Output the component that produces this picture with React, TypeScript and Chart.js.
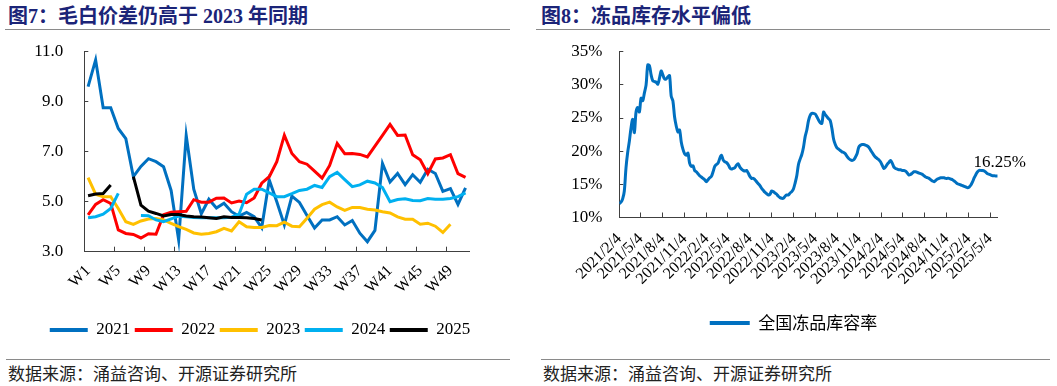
import React, { useEffect, useRef } from 'react';
import { Chart, registerables } from 'chart.js';

Chart.register(...registerables);

// ---------------- Left chart data (图7) ----------------
const weekLabels = [
  'W1', 'W2', 'W3', 'W4', 'W5', 'W6', 'W7', 'W8', 'W9', 'W10',
  'W11', 'W12', 'W13', 'W14', 'W15', 'W16', 'W17', 'W18', 'W19', 'W20',
  'W21', 'W22', 'W23', 'W24', 'W25', 'W26', 'W27', 'W28', 'W29', 'W30',
  'W31', 'W32', 'W33', 'W34', 'W35', 'W36', 'W37', 'W38', 'W39', 'W40',
  'W41', 'W42', 'W43', 'W44', 'W45', 'W46', 'W47', 'W48', 'W49', 'W50', 'W51',
];

const s2021 = [
  9.6, 10.67, 8.76, 8.76, 7.93, 7.52, 6.0, 6.41, 6.72, 6.6,
  6.4, 5.45, 3.47, 7.65, 5.5, 4.52, 5.1, 4.75, 4.94, 4.6,
  4.42, 4.57, 4.4, 3.96, 5.87, 5.0, 4.07, 5.22, 4.97, 4.45,
  3.95, 4.27, 4.27, 4.4, 4.07, 4.25, 3.74, 3.4, 3.85, 6.53,
  5.79, 6.13, 5.68, 6.08, 5.78, 6.3, 6.13, 5.41, 5.52, 4.89, 5.55,
];
const s2022 = [
  4.47, 4.89, 5.08, 4.93, 3.87, 3.73, 3.69, 3.55, 3.72, 3.7,
  4.48, 4.58, 4.6, 4.62, 5.08, 4.98, 4.98, 5.14, 5.15, 4.95,
  5.03, 4.96, 5.15, 5.74, 6.0, 6.6, 7.66, 6.93, 6.6, 6.5,
  6.22, 5.94, 6.45, 7.33, 6.92, 6.93, 6.89, 6.79, 7.22, 7.65,
  8.09, 7.65, 7.67, 6.88, 6.68, 6.12, 6.71, 6.75, 6.88, 6.12, 5.97,
];
const s2023 = [
  5.96, 5.3, 5.2, 5.2, 4.73, 4.2, 4.09, 4.23, 4.31, 4.33,
  4.27, 4.13, 4.0, 3.89, 3.75, 3.7, 3.73, 3.8, 3.93, 3.83,
  4.2, 4.0, 3.97, 3.97, 4.05, 4.04, 4.18, 4.02, 4.0, 4.34,
  4.7, 4.88, 4.98, 4.79, 4.65, 4.77, 4.77, 4.7, 4.67, 4.6,
  4.55, 4.39, 4.3, 4.3, 4.1, 4.14, 4.02, 3.77, 4.1, null, null,
];
const s2024 = [
  4.36, 4.4, 4.5, 4.73, 5.33, null, null, 4.45, 4.44, 4.27,
  4.2, 4.31, 4.42, 4.4, 4.37, 4.36, 4.36, 4.36, 4.36, 4.38,
  4.5, 5.3, 5.5, 5.5, 5.35, 5.2, 5.2, 5.32, 5.45, 5.5,
  5.65, 5.57, 6.0, 6.17, 5.88, 5.6, 5.67, 5.82, 5.75, 5.57,
  5.0, 5.09, 5.12, 5.05, 5.04, 5.13, 5.1, 5.1, 5.13, 5.2, 5.35,
];
const s2025 = [
  5.24, 5.31, 5.33, 5.67, null, null, 6.0, 4.86, 4.62, 4.53,
  4.43, 4.49, 4.49, 4.43, 4.4, 4.39, 4.36, 4.33, 4.4, 4.37,
  4.37, 4.36, 4.33, 4.27,
];

const seriesNames = ['2021', '2022', '2023', '2024', '2025'];
const seriesColors = ['#0070C0', '#FF0000', '#FFC000', '#00B0F0', '#000000'];
const seriesData = [s2021, s2022, s2023, s2024, s2025];
const leftYTicks = { min: 3, max: 11, step: 2 };

// ---------------- Right chart data (图8) ----------------
const invStartDate = '2021/2/4';
const invStepDays = 7; // weekly observations
const invRate = [
  12.1, 12.3, 12.8, 14.0, 17.5, 19.8, 21.5, 23.5, 24.8, 22.8,
  25.9, 26.6, 25.9, 28.0, 27.6, 28.8, 30.0, 33.0, 32.9, 31.5,
  30.6, 30.5, 30.4, 30.1, 31.0, 32.1, 31.5, 30.9, 30.9, 31.2,
  31.4, 28.3, 27.6, 25.2, 23.8, 22.9, 23.2, 21.4, 20.3, 19.6,
  19.4, 19.7, 18.2, 17.7, 17.8, 17.1, 16.9, 16.6, 16.3, 16.1,
  15.9, 15.7, 15.4, 15.7, 16.0, 16.2, 16.9, 17.7, 18.0, 18.2,
  18.9, 19.4, 18.7, 18.4, 18.3, 18.0, 17.5, 17.3, 17.4, 17.5,
  17.9, 18.1, 17.6, 17.3, 17.1, 17.0, 17.1, 16.7, 16.2, 15.9,
  15.9, 15.7, 15.4, 15.1, 14.8, 14.4, 14.1, 13.8, 13.6, 13.4,
  13.5, 14.0, 13.9, 13.7, 13.5, 13.2, 13.0, 12.9, 12.9, 13.2,
  13.4, 13.4, 13.7, 13.9, 14.3, 15.2, 16.3, 18.0, 18.8, 19.5,
  20.6, 22.2, 23.2, 24.6, 25.4, 25.7, 25.7, 25.6, 25.2, 24.7,
  24.3, 24.2, 25.9, 25.5, 25.2, 24.9, 24.6, 23.4, 21.8, 21.0,
  20.5, 20.3, 20.1, 19.9, 19.8, 19.6, 19.2, 18.9, 18.7, 18.6,
  18.7, 19.1, 19.6, 20.6, 20.9, 21.0, 21.0, 20.9, 20.8, 20.6,
  20.2, 19.8, 19.4, 19.1, 18.9, 18.7, 18.4, 17.9, 17.4, 17.6,
  18.0, 18.3, 18.6, 18.2, 17.6, 17.4, 17.3, 17.2, 17.2, 17.1,
  17.1, 17.0, 16.7, 16.4, 16.5, 16.7, 16.9, 16.9, 16.8, 16.7,
  16.6, 16.5, 16.3, 16.1, 16.0, 15.9, 15.7, 15.5, 15.4, 15.6,
  15.8, 15.9, 16.0, 16.0, 16.0, 15.9, 15.9, 15.9, 15.8, 15.7,
  15.5, 15.3, 15.1, 15.0, 14.9, 14.8, 14.7, 14.6, 14.5, 14.6,
  14.9, 15.4, 16.0, 16.5, 16.9, 17.1, 17.1, 17.1, 17.0, 16.8,
  16.6, 16.5, 16.4, 16.3, 16.3, 16.25, 16.25,
];
const invTickLabels = [
  '2021/2/4', '2021/5/4', '2021/8/4', '2021/11/4', '2022/2/4', '2022/5/4',
  '2022/8/4', '2022/11/4', '2023/2/4', '2023/5/4', '2023/8/4', '2023/11/4',
  '2024/2/4', '2024/5/4', '2024/8/4', '2024/11/4', '2025/2/4', '2025/5/4',
];
const invLegend = '全国冻品库容率';
const rightYTicks = { min: 10, max: 35, step: 5 };

// ---------------- Styling ----------------
const SERIF = '"Liberation Serif", "Times New Roman", "Noto Sans CJK SC", serif';
const CJK = '"Noto Sans CJK SC", "Liberation Serif", sans-serif';
const AXIS = '#404040';

function toUTC(label: string) {
  const [y, m, d] = label.split('/').map(Number);
  return Date.UTC(y, m - 1, d);
}
function dayOffset(label: string) {
  return Math.round((toUTC(label) - toUTC(invStartDate)) / 86400000);
}

const legendShift = {
  id: 'legendShift',
  afterLayout(chart: any, _args: any, opts: any) {
    const lg = chart.legend;
    if (!lg || opts == null || opts.center == null) return;
    const shift = opts.center - (lg.left + lg.right) / 2;
    lg.left += shift;
    lg.right += shift;
  },
};

const lastValueLabel = {
  id: 'lastValueLabel',
  afterDatasetsDraw(chart: any, _args: any, opts: any) {
    const meta = chart.getDatasetMeta(0);
    if (!meta || !meta.data.length) return;
    const pt = meta.data[meta.data.length - 1];
    const ctx = chart.ctx;
    ctx.save();
    ctx.font = `17px ${SERIF}`;
    ctx.fillStyle = '#000';
    ctx.textAlign = 'center';
    ctx.textBaseline = 'middle';
    ctx.fillText(opts.text, pt.x + opts.dx, pt.y + opts.dy);
    ctx.restore();
  },
};

function solidLegendLabels(chart: any) {
  const items = (Chart as any).defaults.plugins.legend.labels.generateLabels(chart);
  return items.map((it: any) => ({ ...it, fillStyle: it.strokeStyle, lineWidth: 0 }));
}

function fixY(width: number) {
  return (s: any) => {
    s.width = width;
    s.paddingTop = 8;
    s.paddingBottom = 8;
  };
}
function fixX(height: number) {
  return (s: any) => {
    s.height = height;
    s.paddingLeft = 0;
    s.paddingRight = 0;
  };
}

function buildLeftConfig(): any {
  const order = [4, 3, 2, 1, 0]; // later years drawn on top
  return {
    type: 'line',
    data: {
      labels: weekLabels,
      datasets: order.map((k) => ({
        label: seriesNames[k],
        data: seriesData[k],
        borderColor: seriesColors[k],
        backgroundColor: seriesColors[k],
        borderWidth: 3,
        pointRadius: 0,
        pointHoverRadius: 0,
        tension: 0,
        spanGaps: false,
        fill: false,
      })),
    },
    options: {
      responsive: false,
      animation: false,
      events: [],
      layout: { padding: { left: 0, right: 50.7, top: 16.7, bottom: 1.5 } },
      plugins: {
        legend: {
          position: 'bottom',
          reverse: true,
          labels: {
            boxWidth: 38,
            boxHeight: 4,
            padding: 4.5,
            color: '#000',
            font: { family: SERIF, size: 17 },
            generateLabels: solidLegendLabels,
          },
        },
        tooltip: { enabled: false },
        legendShift: { center: 260 },
      },
      scales: {
        x: {
          type: 'category',
          offset: true,
          grid: {
            offset: true,
            drawOnChartArea: false,
            tickLength: -5,
            lineWidth: 1,
            color: (c: any) => (c.index % 4 === 0 ? AXIS : 'rgba(0,0,0,0)'),
          },
          border: { display: true, color: AXIS, width: 1 },
          ticks: {
            autoSkip: false,
            maxRotation: 45,
            minRotation: 45,
            padding: 15,
            color: '#000',
            font: { family: SERIF, size: 16 },
            callback: (_v: any, i: number) => (i % 4 === 0 ? weekLabels[i] : ''),
          },
          afterFit: fixX(65.3),
        },
        y: {
          min: leftYTicks.min,
          max: leftYTicks.max,
          grid: { drawOnChartArea: false, tickLength: -4, color: AXIS },
          border: { display: true, color: AXIS, width: 1 },
          ticks: {
            stepSize: leftYTicks.step,
            padding: 25,
            color: '#000',
            font: { family: SERIF, size: 17 },
            callback: (v: any) => Number(v).toFixed(1),
          },
          afterFit: fixY(84.3),
        },
      },
    },
    plugins: [legendShift],
  };
}

function buildRightConfig(): any {
  const tickDays = invTickLabels.map(dayOffset);
  const labelByDay: Record<number, string> = {};
  invTickLabels.forEach((l, i) => {
    labelByDay[tickDays[i]] = l;
  });
  const points = invRate.map((v, i) => ({ x: i * invStepDays, y: v }));
  const lastVal = invRate[invRate.length - 1];
  return {
    type: 'line',
    data: {
      datasets: [
        {
          label: invLegend,
          data: points,
          borderColor: '#0070C0',
          backgroundColor: '#0070C0',
          borderWidth: 3,
          pointRadius: 0,
          pointHoverRadius: 0,
          tension: 0.3,
          fill: false,
        },
      ],
    },
    options: {
      responsive: false,
      animation: false,
      events: [],
      layout: { padding: { left: 0, right: 59.3, top: 16.7, bottom: 8.5 } },
      plugins: {
        legend: {
          position: 'bottom',
          labels: {
            boxWidth: 40,
            boxHeight: 4,
            padding: 5,
            color: '#000',
            font: { family: CJK, size: 17 },
            generateLabels: solidLegendLabels,
          },
        },
        tooltip: { enabled: false },
        legendShift: { center: 263.5 },
        lastValueLabel: { text: `${lastVal.toFixed(2)}%`, dx: 2, dy: -14 },
      },
      scales: {
        x: {
          type: 'linear',
          min: 0,
          max: (invRate.length - 1) * invStepDays,
          afterBuildTicks: (s: any) => {
            s.ticks = tickDays.map((v) => ({ value: v }));
          },
          grid: { drawOnChartArea: false, tickLength: -5, color: AXIS },
          border: { display: true, color: AXIS, width: 1 },
          ticks: {
            autoSkip: false,
            maxRotation: 45,
            minRotation: 45,
            padding: 17,
            color: '#000',
            font: { family: SERIF, size: 16 },
            callback: (v: any) => labelByDay[Math.round(Number(v))] ?? '',
          },
          afterFit: fixX(92),
        },
        y: {
          min: rightYTicks.min,
          max: rightYTicks.max,
          grid: { drawOnChartArea: false, tickLength: -4, color: AXIS },
          border: { display: true, color: AXIS, width: 1 },
          ticks: {
            stepSize: rightYTicks.step,
            padding: 21,
            color: '#000',
            font: { family: SERIF, size: 17 },
            callback: (v: any) => `${v}%`,
          },
          afterFit: fixY(89.3),
        },
      },
    },
    plugins: [legendShift, lastValueLabel],
  };
}

const titleStyle = (left: number): React.CSSProperties => ({
  position: 'absolute',
  left,
  top: 6,
  fontFamily: SERIF,
  fontWeight: 700,
  fontSize: 20,
  lineHeight: '20px',
  color: '#1b2478',
  whiteSpace: 'nowrap',
});
const sourceStyle = (left: number): React.CSSProperties => ({
  position: 'absolute',
  left,
  top: 364,
  fontFamily: CJK,
  fontSize: 17,
  lineHeight: '17px',
  color: '#222',
  whiteSpace: 'nowrap',
});
const rule = (left: number, top: number, width: number): React.CSSProperties => ({
  position: 'absolute',
  left,
  top,
  width,
  height: 0,
  borderTop: '1px solid #8a8a8a',
});

export default function App() {
  const leftRef = useRef<HTMLCanvasElement>(null);
  const rightRef = useRef<HTMLCanvasElement>(null);

  useEffect(() => {
    const c1 = new Chart(leftRef.current as HTMLCanvasElement, buildLeftConfig());
    const c2 = new Chart(rightRef.current as HTMLCanvasElement, buildRightConfig());
    return () => {
      c1.destroy();
      c2.destroy();
    };
  }, []);

  return (
    <div
      style={{
        position: 'fixed',
        left: 0,
        top: 0,
        width: 1057,
        height: 386,
        background: '#fff',
        overflow: 'hidden',
      }}
    >
      <div style={titleStyle(8)}>图7：毛白价差仍高于 2023 年同期</div>
      <div style={rule(5, 29, 505)} />
      <canvas
        ref={leftRef}
        width={520}
        height={315}
        style={{ position: 'absolute', left: 0, top: 35, width: 520, height: 315 }}
      />
      <div style={rule(6, 359, 504)} />
      <div style={sourceStyle(8)}>数据来源：涌益咨询、开源证券研究所</div>

      <div style={titleStyle(541)}>图8：冻品库存水平偏低</div>
      <div style={rule(536, 29, 514)} />
      <canvas
        ref={rightRef}
        width={527}
        height={315}
        style={{ position: 'absolute', left: 530, top: 35, width: 527, height: 315 }}
      />
      <div style={rule(541, 359, 509)} />
      <div style={sourceStyle(543)}>数据来源：涌益咨询、开源证券研究所</div>
    </div>
  );
}
